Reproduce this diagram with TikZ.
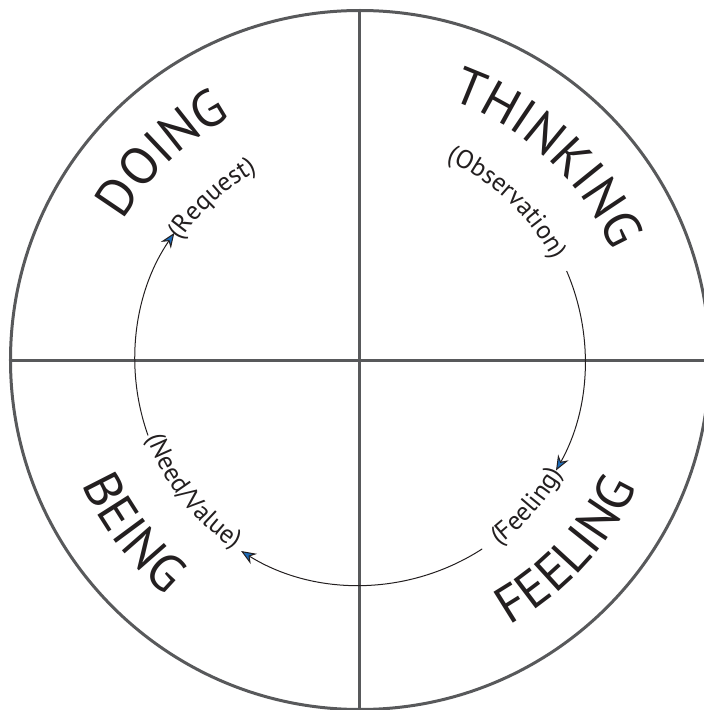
\documentclass[tikz,border=0pt]{standalone}
\usepackage{fontspec}
\setmainfont{PT Sans}
\usetikzlibrary{arrows.meta,decorations.text}
\definecolor{rimgray}{HTML}{58595B}
\definecolor{tipblue}{HTML}{1C6BB8}
\definecolor{inkblack}{HTML}{231F20}
\newcommand\bigfont{\fontsize{52}{60}\selectfont\color{inkblack}}
\newcommand\smallfont{\fontsize{26}{30}\selectfont\color{inkblack}}
\tikzset{
  rim/.style={draw=rimgray, line width=3pt},
  flow/.style={draw=inkblack, line width=1pt,
    -{Stealth[length=15pt,width=12pt,inset=5pt,fill=tipblue,line width=1pt]}},
  curvetext/.style={decorate, decoration={text along path, text align=center, text={#1}}},
}
\begin{document}
\begin{tikzpicture}[x=1pt,y=1pt]
\useasboundingbox (-360,-350) rectangle (344,360);
\coordinate (c) at (0,0);
% outer rim and cross
\draw[rim] (c) circle[radius=349.5];
\coordinate (top) at (0,349.5);
\coordinate (bottom) at (0,-350);
\coordinate (left) at (-349.5,0);
\coordinate (right) at (344,0);
\draw[rim] (top) -- (bottom);
\draw[rim] (left) -- (right);
% flow arcs
\draw[flow] (23.3:225) arc[start angle=23.3, end angle=-29.4, radius=225];
\draw[flow] (-57.1:225) arc[start angle=-57.1, end angle=-121.9, radius=225];
\draw[flow] (199.6:225) arc[start angle=199.6, end angle=145.6, radius=225];
% big labels
\path[curvetext={|\bigfont|DOING}] (163.7:275) arc[start angle=163.7, end angle=103.7, radius=275];
\path[curvetext={|\bigfont|THINKING}] (82.1:275) arc[start angle=82.1, end angle=12.1, radius=275];
\path[curvetext={|\bigfont|FEELING}] (-77.6:305) arc[start angle=-77.6, end angle=-7.6, radius=305];
\path[curvetext={|\bigfont|BEING}] (187.3:305) arc[start angle=187.3, end angle=247.3, radius=305];
% small labels
\path[curvetext={|\smallfont|(Request)}] (162.5:215) arc[start angle=162.5, end angle=102.5, radius=215];
\path[curvetext={|\smallfont|(Observation)}] (87:217) arc[start angle=87, end angle=7, radius=217];
\path[curvetext={|\smallfont|(Feeling)}] (-71.2:232) arc[start angle=-71.2, end angle=-11.2, radius=232];
\path[curvetext={|\smallfont|(Need/Value)}] (183.2:227) arc[start angle=183.2, end angle=253.2, radius=227];
\end{tikzpicture}
\end{document}
